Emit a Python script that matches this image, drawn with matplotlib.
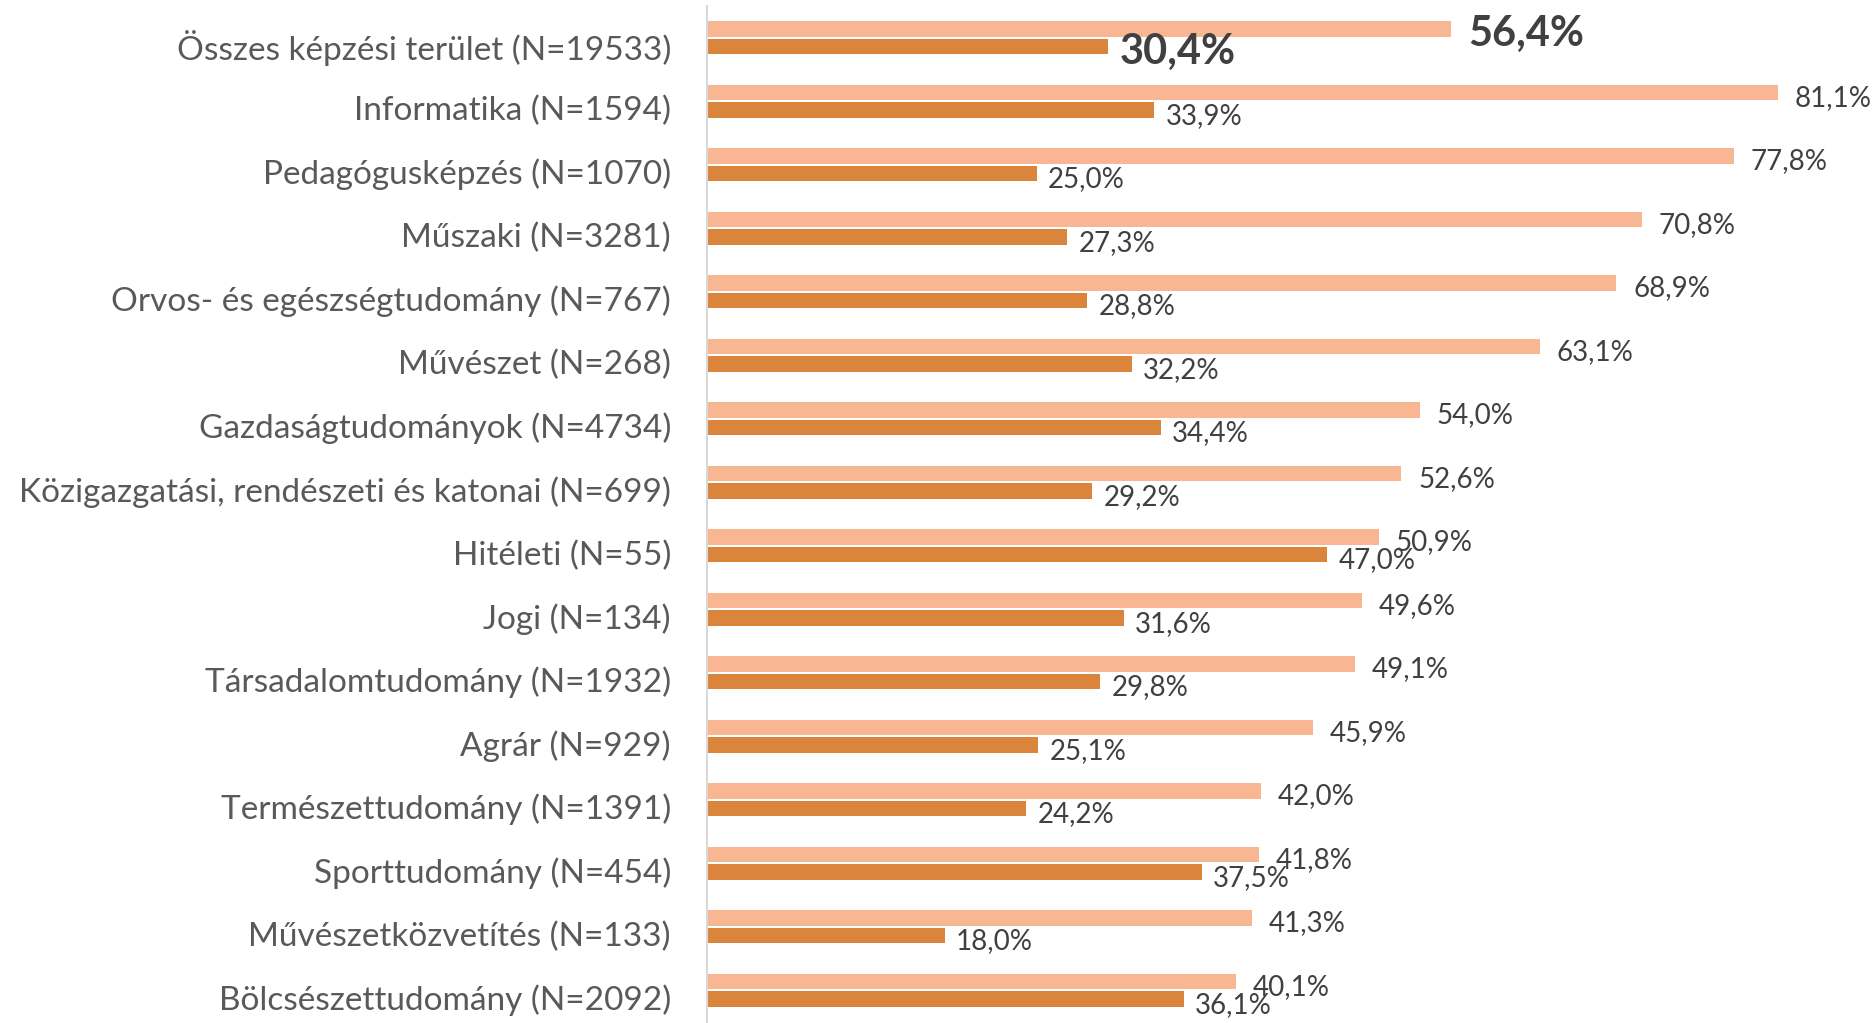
import numpy as np
import matplotlib
matplotlib.use("Agg")
import matplotlib.pyplot as plt
import matplotlib.transforms as mtransforms

plt.rcParams['font.family'] = ['Lato', 'DejaVu Sans']

# data
categories = ["Összes képzési terület (N=19533)", "Informatika (N=1594)",
              "Pedagógusképzés (N=1070)", "Műszaki (N=3281)",
              "Orvos- és egészségtudomány (N=767)", "Művészet (N=268)",
              "Gazdaságtudományok (N=4734)",
              "Közigazgatási, rendészeti és katonai (N=699)",
              "Hitéleti (N=55)", "Jogi (N=134)", "Társadalomtudomány (N=1932)",
              "Agrár (N=929)", "Természettudomány (N=1391)",
              "Sporttudomány (N=454)", "Művészetközvetítés (N=133)",
              "Bölcsészettudomány (N=2092)"]
light_vals = [56.4, 81.1, 77.8, 70.8, 68.9, 63.1, 54.0, 52.6, 50.9, 49.6,
              49.1, 45.9, 42.0, 41.8, 41.3, 40.1]
dark_vals = [30.4, 33.9, 25.0, 27.3, 28.8, 32.2, 34.4, 29.2, 47.0, 31.6,
             29.8, 25.1, 24.2, 37.5, 18.0, 36.1]

light_col = '#F8B692'
dark_col = '#DB843C'
label_col = '#595959'
value_col = '#404040'

W, H = 1876, 1023
fig = plt.figure(figsize=(W / 100, H / 100), dpi=100)
ax = fig.add_axes([707 / W, 1 - 1022 / H, (W - 707) / W, (1022 - 6) / H])

y = np.arange(len(categories))
bh = 0.245
off = 0.14
ax.barh(y - off, light_vals, height=bh, color=light_col, zorder=2)
ax.barh(y + off, dark_vals, height=bh, color=dark_col, zorder=2)

ax.set_ylim(len(categories) - 0.5, -0.5)
ax.set_xlim(0, (W - 707) / 13.2)

# value labels, first row bold and bigger
for i in range(len(categories)):
    if i == 0:
        fs, fw = 30, 'bold'
    else:
        fs, fw = 20, 'normal'
    ax.annotate(f"{light_vals[i]:.1f}%".replace('.', ','), (light_vals[i], y[i] - off),
                xytext=(12, -4), textcoords='offset points', va='center', ha='left',
                fontsize=fs, fontweight=fw, color=value_col, clip_on=False)
    ax.annotate(f"{dark_vals[i]:.1f}%".replace('.', ','), (dark_vals[i], y[i] + off),
                xytext=(8, -4), textcoords='offset points', va='center', ha='left',
                fontsize=fs, fontweight=fw, color=value_col, clip_on=False)

ax.set_yticks(y)
ax.set_yticklabels(categories, fontsize=24, color=label_col)
ax.tick_params(axis='y', length=0, pad=26)
ax.set_xticks([])

# category labels sit a little lower than the bar pairs
shift = mtransforms.ScaledTranslation(0, -5 / 72, fig.dpi_scale_trans)
for lab in ax.get_yticklabels():
    lab.set_transform(lab.get_transform() + shift)

for s in ['top', 'right', 'bottom']:
    ax.spines[s].set_visible(False)
ax.spines['left'].set_color('#D9D9D9')
ax.spines['left'].set_linewidth(1.5)

fig.savefig('out.png', dpi=100)
